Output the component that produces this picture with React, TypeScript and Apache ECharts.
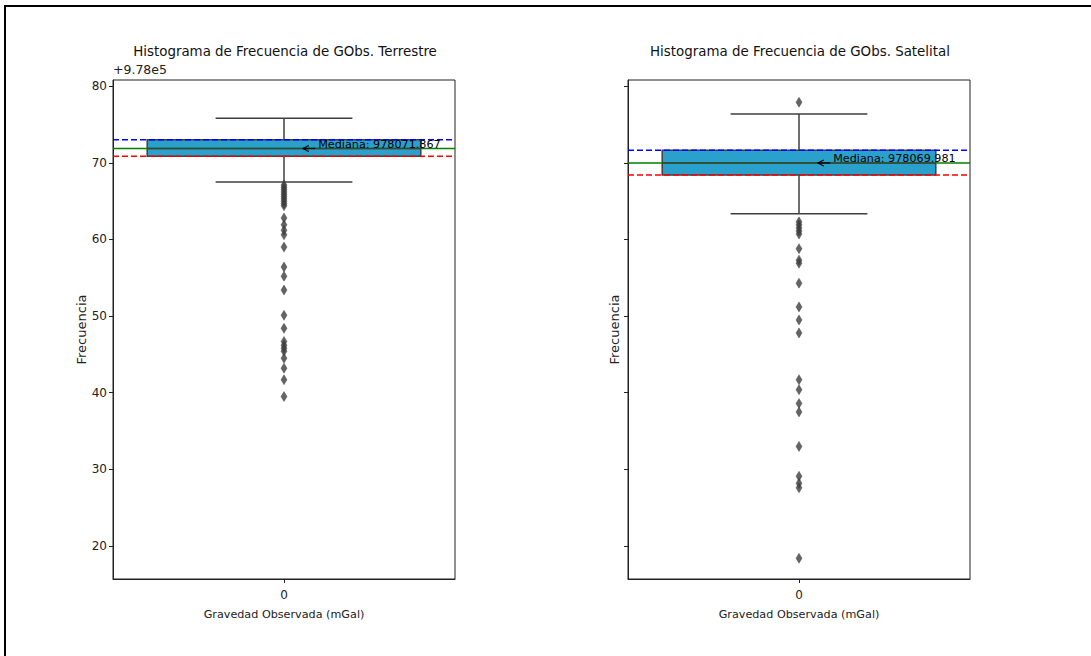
import React, { useEffect, useRef } from "react";
import * as echarts from "echarts";

const categories = ["0"];
const yTicks = [20, 30, 40, 50, 60, 70, 80];
const yMin = 15.7;
const yMax = 80.8;

const titles = [
  "Histograma de Frecuencia de GObs. Terrestre",
  "Histograma de Frecuencia de GObs. Satelital",
];
const medianLabels = ["Mediana: 978071.867", "Mediana: 978069.981"];

// [min whisker, Q1, median, Q3, max whisker] (offset +978000)
const terrestreStats = [67.5, 70.85, 71.867, 73.0, 75.8];
const satelitalStats = [63.35, 68.4, 69.981, 71.65, 76.35];

const terrestreOutliers = [
  67.1, 66.8, 66.5, 66.2, 65.9, 65.6, 65.3, 65.0, 64.7, 64.4, 62.8, 61.9, 61.2,
  60.6, 59.0, 56.4, 55.2, 53.4, 50.1, 48.4, 46.7, 46.2, 45.8, 45.4, 44.5, 43.2,
  41.7, 39.5,
];
const satelitalOutliers = [
  77.9, 62.3, 61.9, 61.5, 61.1, 60.7, 58.8, 57.3, 56.9, 54.3, 51.2, 49.5, 47.8,
  41.7, 40.4, 38.6, 37.5, 33.0, 29.1, 28.2, 27.6, 18.4,
];

const FONT = "DejaVu Sans";
const BOX_FILL = "#2aa0cc";
const EDGE = "#3f3f3f";

function makeBoxSeries(idx: number, stats: number[], label: string) {
  return {
    type: "custom",
    xAxisIndex: idx,
    yAxisIndex: idx,
    z: 2,
    silent: true,
    data: [[0, ...stats]],
    encode: { x: 0, y: [1, 2, 3, 4, 5] },
    renderItem: (params: any, api: any) => {
      const xi = api.value(0);
      const mn = api.value(1);
      const q1 = api.value(2);
      const md = api.value(3);
      const q3 = api.value(4);
      const mx = api.value(5);
      const band = api.size([1, 0])[0];
      const cx = api.coord([xi, md])[0];
      const yOf = (v: number) => api.coord([xi, v])[1];
      const cs = params.coordSys;
      const half = band * 0.4;
      const cap = band * 0.2;
      const edge = { stroke: EDGE, lineWidth: 1.5 };
      const hline = (v: number, color: string, dash: any) => ({
        type: "line",
        shape: { x1: cs.x, y1: yOf(v), x2: cs.x + cs.width, y2: yOf(v) },
        style: { stroke: color, lineWidth: 1.5, lineDash: dash },
      });
      const tipX = cx + band * 0.055;
      const textX = cx + band * 0.1;
      const my = yOf(md);
      return {
        type: "group",
        children: [
          { type: "line", shape: { x1: cx, y1: yOf(q1), x2: cx, y2: yOf(mn) }, style: edge },
          { type: "line", shape: { x1: cx, y1: yOf(q3), x2: cx, y2: yOf(mx) }, style: edge },
          { type: "line", shape: { x1: cx - cap, y1: yOf(mn), x2: cx + cap, y2: yOf(mn) }, style: edge },
          { type: "line", shape: { x1: cx - cap, y1: yOf(mx), x2: cx + cap, y2: yOf(mx) }, style: edge },
          {
            type: "rect",
            shape: { x: cx - half, y: yOf(q3), width: half * 2, height: yOf(q1) - yOf(q3) },
            style: { fill: BOX_FILL, stroke: EDGE, lineWidth: 1.5 },
          },
          hline(md, "green", null),
          hline(q3, "blue", [6, 3]),
          hline(q1, "red", [6, 3]),
          { type: "line", shape: { x1: cx - half, y1: my, x2: cx + half, y2: my }, style: edge },
          { type: "line", shape: { x1: textX - 3, y1: my, x2: tipX, y2: my }, style: { stroke: "#000", lineWidth: 1.2 } },
          { type: "line", shape: { x1: tipX, y1: my, x2: tipX + 6, y2: my - 3 }, style: { stroke: "#000", lineWidth: 1.2 } },
          { type: "line", shape: { x1: tipX, y1: my, x2: tipX + 6, y2: my + 3 }, style: { stroke: "#000", lineWidth: 1.2 } },
          {
            type: "text",
            x: textX,
            y: my + 1.5,
            style: {
              text: label,
              fill: "#000",
              font: `11.2px "${FONT}"`,
              align: "left",
              verticalAlign: "bottom",
            },
          },
        ],
      };
    },
  };
}

function makeOutlierSeries(idx: number, values: number[]) {
  return {
    type: "scatter",
    xAxisIndex: idx,
    yAxisIndex: idx,
    z: 4,
    silent: true,
    symbol: "diamond",
    symbolSize: [6, 10],
    itemStyle: { color: "#3d3d3d", borderColor: "#3d3d3d", borderWidth: 0.5 },
    data: values.map((v) => [0, v]),
  };
}

export default function App() {
  const ref = useRef<HTMLDivElement>(null);
  useEffect(() => {
    if (!ref.current) return;
    const chart = echarts.init(ref.current, null, { renderer: "svg" });
    const gridLefts = [113, 628];
    const axisText = { color: "#222", fontFamily: FONT, fontSize: 11 };
    const option: any = {
      animation: false,
      backgroundColor: "#fff",
      title: titles.map((t, i) => ({
        text: t,
        left: gridLefts[i] + 167,
        top: 40,
        textAlign: "center",
        textStyle: { fontFamily: FONT, fontSize: 13.4, fontWeight: "normal", color: "#111" },
      })),
      grid: gridLefts.map((l) => ({
        left: l,
        top: 80,
        width: 342,
        height: 499,
        show: true,
        borderColor: "#222",
        borderWidth: 1,
        backgroundColor: "transparent",
      })),
      xAxis: [0, 1].map((i) => ({
        type: "category",
        gridIndex: i,
        data: categories,
        boundaryGap: true,
        axisLine: { show: true, lineStyle: { color: "#222", width: 1 } },
        axisTick: { show: true, alignWithLabel: true, length: 4, lineStyle: { color: "#222" } },
        axisLabel: { ...axisText, fontSize: 12, margin: 10 },
        splitLine: { show: false },
        name: "Gravedad Observada (mGal)",
        nameLocation: "middle",
        nameGap: 30,
        nameTextStyle: { ...axisText, fontSize: 11.2 },
      })),
      yAxis: [0, 1].map((i) => ({
        type: "value",
        gridIndex: i,
        min: yMin,
        max: yMax,
        axisLine: { show: true, lineStyle: { color: "#222", width: 1 } },
        axisTick: { show: true, length: 4, customValues: yTicks, lineStyle: { color: "#222" } },
        axisLabel: { ...axisText, fontSize: 12, show: i === 0, margin: 6, customValues: yTicks },
        splitLine: { show: false },
        name: "Frecuencia",
        nameLocation: "middle",
        nameRotate: 90,
        nameGap: i === 0 ? 24 : 7,
        nameTextStyle: { ...axisText, fontSize: 13 },
      })),
      graphic: [
        {
          type: "text",
          left: 113,
          top: 63,
          style: { text: "+9.78e5", fill: "#222", font: `12.5px "${FONT}"` },
        },
        {
          type: "line",
          shape: { x1: 4, y1: 6, x2: 1091, y2: 6 },
          style: { stroke: "#000", lineWidth: 2 },
        },
        {
          type: "line",
          shape: { x1: 5, y1: 6, x2: 5, y2: 656 },
          style: { stroke: "#000", lineWidth: 2 },
        },
      ],
      series: [
        makeBoxSeries(0, terrestreStats, medianLabels[0]),
        makeOutlierSeries(0, terrestreOutliers),
        makeBoxSeries(1, satelitalStats, medianLabels[1]),
        makeOutlierSeries(1, satelitalOutliers),
      ],
    };
    chart.setOption(option);
    return () => chart.dispose();
  }, []);
  return (
    <div
      ref={ref}
      style={{ position: "absolute", left: 0, top: 0, width: 1091, height: 656 }}
    />
  );
}
